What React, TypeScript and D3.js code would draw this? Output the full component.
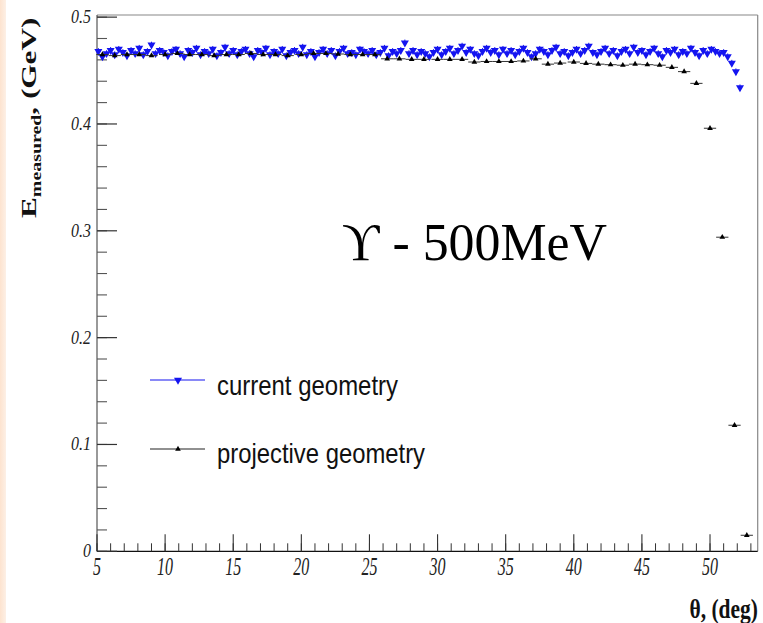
import React from "react";
import * as d3 from "d3";

// current geometry (blue, down triangles)
const currentTheta = [
  5.1, 5.4, 5.7, 6.0, 6.3, 6.6, 6.9, 7.2, 7.5, 7.8, 8.1, 8.4, 8.7, 9.0, 9.3, 9.6, 9.9,
  10.2, 10.5, 10.8, 11.1, 11.4, 11.7, 12.0, 12.3, 12.6, 12.9, 13.2, 13.5, 13.8, 14.1, 14.4, 14.7, 15.0,
  15.3, 15.6, 15.9, 16.2, 16.5, 16.8, 17.1, 17.4, 17.7, 18.0, 18.3, 18.6, 18.9, 19.2, 19.5, 19.8,
  20.1, 20.4, 20.7, 21.0, 21.3, 21.6, 21.9, 22.2, 22.5, 22.8, 23.1, 23.4, 23.7, 24.0, 24.3, 24.6, 24.9,
  25.2, 25.5, 25.8, 26.1, 26.4, 26.7, 27.0, 27.3, 27.6, 27.9, 28.2, 28.5, 28.8, 29.1, 29.4, 29.7,
  30.0, 30.3, 30.6, 30.9, 31.2, 31.5, 31.8, 32.1, 32.4, 32.7, 33.0, 33.3, 33.6, 33.9, 34.2, 34.5, 34.8,
  35.1, 35.4, 35.7, 36.0, 36.3, 36.6, 36.9, 37.2, 37.5, 37.8, 38.1, 38.4, 38.7, 39.0, 39.3, 39.6, 39.9,
  40.2, 40.5, 40.8, 41.1, 41.4, 41.7, 42.0, 42.3, 42.6, 42.9, 43.2, 43.5, 43.8, 44.1, 44.4, 44.7,
  45.0, 45.3, 45.6, 45.9, 46.2, 46.5, 46.8, 47.1, 47.4, 47.7, 48.0, 48.3, 48.6, 48.9, 49.2, 49.5, 49.8,
  50.1, 50.4, 50.7, 51.0, 51.3, 51.6, 51.9, 52.2,
];
const currentE = [
  0.468, 0.463, 0.466, 0.469, 0.465, 0.470, 0.467, 0.464, 0.469, 0.466,
  0.471, 0.465, 0.468, 0.474, 0.466, 0.469, 0.467, 0.464, 0.468, 0.470,
  0.466, 0.463, 0.469, 0.467, 0.471, 0.465, 0.468, 0.466, 0.470, 0.464,
  0.467, 0.472, 0.466, 0.469,
  0.465, 0.468, 0.470, 0.466, 0.463, 0.469, 0.467, 0.471, 0.465, 0.468,
  0.466, 0.470, 0.464, 0.467, 0.469, 0.466, 0.472, 0.465, 0.468, 0.463,
  0.467, 0.470, 0.466, 0.469, 0.464, 0.468, 0.471, 0.466, 0.467, 0.465,
  0.470, 0.468, 0.466,
  0.469, 0.465, 0.467, 0.471, 0.464, 0.468, 0.466, 0.469, 0.476, 0.466,
  0.469, 0.465, 0.468, 0.466, 0.463, 0.467, 0.470, 0.465, 0.468, 0.471,
  0.466, 0.469, 0.473, 0.467, 0.470, 0.466, 0.464, 0.468, 0.471, 0.467,
  0.469, 0.465, 0.470,
  0.466, 0.469, 0.465, 0.468, 0.471, 0.467, 0.463, 0.466, 0.470, 0.468,
  0.465, 0.469, 0.472, 0.466, 0.468, 0.464, 0.467, 0.470, 0.466, 0.469,
  0.473, 0.467, 0.465, 0.468, 0.471, 0.466, 0.469, 0.464, 0.468, 0.470,
  0.466, 0.472, 0.467,
  0.469, 0.465, 0.468, 0.471, 0.466, 0.463, 0.469, 0.467, 0.470, 0.465,
  0.468, 0.466, 0.471, 0.467, 0.464, 0.469, 0.466, 0.470, 0.468, 0.466,
  0.467, 0.463, 0.457, 0.449, 0.434,
];

// projective geometry (black, up triangles)
const projTheta = [
  5.4, 6.3, 7.2, 8.1, 9.0, 10.0, 10.9, 11.8, 12.7, 13.6, 14.5, 15.4, 16.3, 17.2, 18.1, 19.0,
  20.0, 20.9, 21.8, 22.7, 23.6, 24.5, 25.4, 26.3, 27.2, 28.1, 29.0, 30.0, 30.9, 31.8, 32.7,
  33.6, 34.5, 35.4, 36.3, 37.2, 38.1, 39.0, 40.0, 40.9, 41.8, 42.7, 43.6, 44.5, 45.4, 46.3,
  47.2, 48.1, 49.0, 50.0, 50.9, 51.8, 52.7,
];
const projE = [
  0.465, 0.464, 0.465, 0.465, 0.464, 0.465, 0.466, 0.465, 0.465, 0.464, 0.465, 0.465, 0.466,
  0.465, 0.465, 0.464, 0.465, 0.466, 0.466, 0.4655, 0.465, 0.465, 0.465, 0.461, 0.461, 0.4605,
  0.4605, 0.4605, 0.4605, 0.4605, 0.458, 0.4585, 0.4585, 0.4585, 0.459, 0.461, 0.456, 0.457,
  0.458, 0.4567, 0.456, 0.4555, 0.455, 0.456, 0.4555, 0.455, 0.453, 0.449, 0.438, 0.396,
  0.294, 0.118, 0.015,
];

const xTicks = [5, 10, 15, 20, 25, 30, 35, 40, 45, 50];
const yTicks = [0, 0.1, 0.2, 0.3, 0.4, 0.5];
const legendLabels = ["current geometry", "projective geometry"];

const W = 763;
const H = 623;

export default function App() {
  const x = d3.scaleLinear().domain([5, 53.5]).range([97, 757.7]);
  const y = d3.scaleLinear().domain([0, 0.502]).range([551.3, 15]);

  const triUp = (s: number) => d3.symbol(d3.symbolTriangle, s)()!;
  const blueTri = triUp(28);
  const blackTri = triUp(14);

  const xMinor = d3.range(5, 54, 1);
  const yMinor = d3.range(0, 0.501, 0.02);

  const blue = "#1414f0";

  return (
    <svg
      width={W}
      height={H}
      style={{ position: "absolute", left: 0, top: 0, background: "#fff" }}
    >
      <defs>
        <linearGradient id="edge" x1="0" x2="1" y1="0" y2="0">
          <stop offset="0" stopColor="#fde3cf" />
          <stop offset="1" stopColor="#fdf0e6" />
        </linearGradient>
      </defs>
      <rect x={0} y={0} width={6} height={H} fill="url(#edge)" />

      {/* frame */}
      <line x1={x(5)} x2={x(53.5)} y1={15} y2={15} stroke="#888" strokeWidth={1.2} />
      <line x1={757.7} x2={757.7} y1={15} y2={551.3} stroke="#888" strokeWidth={1.2} />
      <line x1={x(5)} x2={x(5)} y1={15} y2={551.3} stroke="#555" strokeWidth={1.2} />
      <line x1={x(5)} x2={757.7} y1={551.3} y2={551.3} stroke="#111" strokeWidth={1.3} />

      {/* y ticks */}
      {yMinor.map((v) => (
        <line key={"ym" + v} x1={x(5)} x2={x(5) + 10} y1={y(v)} y2={y(v)} stroke="#555" strokeWidth={1.1} />
      ))}
      {yTicks.map((v) => (
        <g key={"yt" + v}>
          <line x1={x(5)} x2={x(5) + 20} y1={y(v)} y2={y(v)} stroke="#333" strokeWidth={1.2} />
          <text
            transform={`translate(91,${y(v) + 6}) scale(1,1.22)`}
            textAnchor="end"
            fontFamily="Liberation Serif, serif"
            fontStyle="italic"
            fontSize={16}
            fill="#222"
          >
            {v === 0 ? "0" : d3.format(".1f")(v)}
          </text>
        </g>
      ))}

      {/* x ticks */}
      {xMinor.map((v) => (
        <line key={"xm" + v} x1={x(v)} x2={x(v)} y1={551.3} y2={551.3 - 8} stroke="#333" strokeWidth={1} />
      ))}
      {xTicks.map((v) => (
        <g key={"xt" + v}>
          <line x1={x(v)} x2={x(v)} y1={551.3} y2={551.3 - 17} stroke="#333" strokeWidth={1.1} />
          <text
            transform={`translate(${x(v)},575) scale(1,1.55)`}
            textAnchor="middle"
            fontFamily="Liberation Serif, serif"
            fontStyle="italic"
            fontSize={16}
            fill="#222"
          >
            {v}
          </text>
        </g>
      ))}

      {/* current geometry */}
      <g>
        {currentTheta.map((t, i) => (
          <g key={"c" + i}>
            <line x1={x(t - 0.15)} x2={x(t + 0.15)} y1={y(currentE[i])} y2={y(currentE[i])} stroke={blue} strokeWidth={1} />
            <line x1={x(t)} x2={x(t)} y1={y(currentE[i] + 0.003)} y2={y(currentE[i] - 0.003)} stroke={blue} strokeWidth={1} />
            <path d={blueTri} transform={`translate(${x(t)},${y(currentE[i])}) rotate(180)`} fill={blue} />
          </g>
        ))}
      </g>

      {/* projective geometry */}
      <g>
        {projTheta.map((t, i) => (
          <g key={"p" + i}>
            <line x1={x(t - 0.45)} x2={x(t + 0.45)} y1={y(projE[i])} y2={y(projE[i])} stroke="#333" strokeWidth={1} />
            <path d={blackTri} transform={`translate(${x(t)},${y(projE[i])})`} fill="#000" />
          </g>
        ))}
      </g>

      {/* legend */}
      <line x1={150} x2={205} y1={380} y2={380} stroke={blue} strokeWidth={1.2} />
      <path d={blueTri} transform="translate(178,380) rotate(180)" fill={blue} />
      <text
        transform="translate(217,395) scale(1,1.15)"
        fontFamily="Liberation Sans, Arial, sans-serif"
        fontSize={24}
        fill="#111"
        textLength={181}
        lengthAdjust="spacingAndGlyphs"
      >
        {legendLabels[0]}
      </text>
      <line x1={150} x2={205} y1={449} y2={449} stroke="#222" strokeWidth={1.2} />
      <path d={blackTri} transform="translate(178,449)" fill="#000" />
      <text
        transform="translate(217,463) scale(1,1.15)"
        fontFamily="Liberation Sans, Arial, sans-serif"
        fontSize={24}
        fill="#111"
        textLength={208}
        lengthAdjust="spacingAndGlyphs"
      >
        {legendLabels[1]}
      </text>

      {/* annotation */}
      <text x={342} y={260} fontFamily="Liberation Serif, DejaVu Serif, serif" fontSize={53} fill="#000" textLength={265} lengthAdjust="spacingAndGlyphs">
        ϒ - 500MeV
      </text>

      {/* axis titles */}
      <text
        transform="translate(758,618) scale(1,1.3)"
        textAnchor="end"
        fontFamily="Liberation Serif, serif"
        fontWeight="bold"
        fontSize={21.5}
        fill="#111"
      >
        θ, (deg)
      </text>
      <text
        transform="translate(36,218) rotate(-90) scale(1.42,1)"
        fontFamily="Liberation Serif, serif"
        fontWeight="bold"
        fill="#111"
        fontSize={22}
      >
        <tspan>E</tspan>
        <tspan fontSize={14} dy={5}>measured</tspan>
        <tspan dy={-5}>, (GeV)</tspan>
      </text>
    </svg>
  );
}
